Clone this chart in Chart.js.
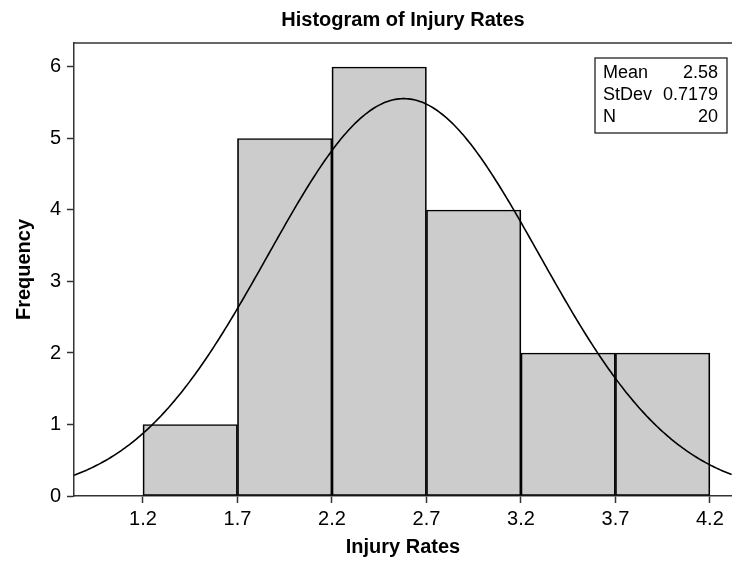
<!DOCTYPE html>
<html>
<head>
<meta charset="utf-8">
<title>Histogram of Injury Rates</title>
<script src="https://cdn.jsdelivr.net/npm/chart.js@4.4.1/dist/chart.umd.min.js"></script>
<style>
  html, body { margin: 0; padding: 0; background: #ffffff; overflow: hidden; }
  canvas { display: block; }
</style>
</head>
<body>
<canvas id="hist" width="732" height="566"></canvas>
<script>
// Histogram bins (left edges) and counts
const binStarts = [1.2, 1.7, 2.2, 2.7, 3.2, 3.7];
const binWidth = 0.5;
const counts = [1, 5, 6, 4, 2, 2];

// Axis ticks
const xTicks = [1.2, 1.7, 2.2, 2.7, 3.2, 3.7, 4.2];
const yTicks = [0, 1, 2, 3, 4, 5, 6];
const xRange = [0.835, 4.317];
const yRange = [0, 6.335];

// Summary statistics shown in the box
const statLabels = ['Mean', 'StDev', 'N'];
const statValues = ['2.58', '0.7179', '20'];
const mean = 2.58;
const stdev = 0.7179;
const n = 20;

const chartTitle = 'Histogram of Injury Rates';
const FONT = '"Liberation Sans", Arial, Helvetica, sans-serif';

// Histogram bars centred on their bins
const barData = binStarts.map((s, i) => ({ x: s + binWidth / 2, y: counts[i] }));

// Fitted normal curve scaled to counts per bin
const curveData = [];
for (let x = xRange[0]; x <= xRange[1] + 1e-9; x += 0.01) {
  const z = (x - mean) / stdev;
  const dens = Math.exp(-0.5 * z * z) / (stdev * Math.sqrt(2 * Math.PI));
  curveData.push({ x: x, y: n * binWidth * dens });
}

// Title over the plot, top edge of the frame and the statistics box
const framePlugin = {
  id: 'frameAndStats',
  afterDraw(chart) {
    const { ctx, chartArea } = chart;
    ctx.save();

    ctx.fillStyle = '#000000';
    ctx.font = 'bold 20px ' + FONT;
    ctx.textAlign = 'center';
    ctx.textBaseline = 'middle';
    ctx.fillText(chartTitle, (chartArea.left + chartArea.right) / 2, chartArea.top - 23);

    ctx.strokeStyle = '#333333';
    ctx.lineWidth = 1.5;
    ctx.beginPath();
    ctx.moveTo(chartArea.left, chartArea.top);
    ctx.lineTo(chartArea.right, chartArea.top);
    ctx.stroke();

    const boxW = 132, boxH = 75;
    const bx = chartArea.right - 5 - boxW;
    const by = chartArea.top + 15;
    ctx.fillStyle = '#ffffff';
    ctx.fillRect(bx, by, boxW, boxH);
    ctx.strokeStyle = '#222222';
    ctx.lineWidth = 1.3;
    ctx.strokeRect(bx, by, boxW, boxH);

    ctx.fillStyle = '#000000';
    ctx.font = '18px ' + FONT;
    ctx.textBaseline = 'middle';
    statLabels.forEach((lab, i) => {
      const y = by + 15 + i * 22;
      ctx.textAlign = 'left';
      ctx.fillText(lab, bx + 8, y);
      ctx.textAlign = 'right';
      ctx.fillText(statValues[i], bx + boxW - 9, y);
    });
    ctx.restore();
  }
};

new Chart(document.getElementById('hist'), {
  type: 'bar',
  data: {
    datasets: [
      {
        type: 'line',
        data: curveData,
        borderColor: '#000000',
        borderWidth: 1.6,
        pointRadius: 0,
        tension: 0,
        fill: false,
        order: 0
      },
      {
        type: 'bar',
        data: barData,
        backgroundColor: '#cccccc',
        borderColor: '#000000',
        borderWidth: 1.7,
        borderSkipped: false,
        barPercentage: 1,
        categoryPercentage: 1,
        order: 1
      }
    ]
  },
  options: {
    responsive: false,
    devicePixelRatio: 1,
    animation: false,
    layout: { padding: { top: 43, left: 0, right: 0, bottom: 0 } },
    plugins: {
      legend: { display: false },
      tooltip: { enabled: false },
      title: { display: false }
    },
    scales: {
      x: {
        type: 'linear',
        min: xRange[0],
        max: xRange[1],
        offset: false,
        afterBuildTicks(scale) { scale.ticks = xTicks.map(v => ({ value: v })); },
        afterFit(scale) { scale.height = 70; },
        grid: {
          offset: false,
          drawOnChartArea: false,
          drawTicks: true,
          tickLength: 7,
          tickColor: '#333333',
          tickWidth: 1.5
        },
        border: { display: true, color: '#333333', width: 1.5 },
        ticks: {
          color: '#000000',
          font: { family: FONT, size: 20 },
          padding: 4,
          maxRotation: 0,
          callback: v => v.toFixed(1)
        },
        title: {
          display: true,
          text: 'Injury Rates',
          color: '#000000',
          font: { family: FONT, size: 20, weight: 'bold', lineHeight: 1.2 },
          padding: { top: 0, bottom: 7 }
        }
      },
      y: {
        min: yRange[0],
        max: yRange[1],
        afterBuildTicks(scale) { scale.ticks = yTicks.map(v => ({ value: v })); },
        afterFit(scale) { scale.width = 74; },
        grid: {
          drawOnChartArea: false,
          drawTicks: true,
          tickLength: 7,
          tickColor: '#333333',
          tickWidth: 1.5
        },
        border: { display: true, color: '#333333', width: 1.5 },
        ticks: {
          color: '#000000',
          font: { family: FONT, size: 20 },
          padding: 6,
          callback: v => String(v)
        },
        title: {
          display: true,
          text: 'Frequency',
          color: '#000000',
          font: { family: FONT, size: 20, weight: 'bold', lineHeight: 1.2 },
          padding: { top: 12, bottom: 0 }
        }
      }
    }
  },
  plugins: [framePlugin]
});
</script>
</body>
</html>
